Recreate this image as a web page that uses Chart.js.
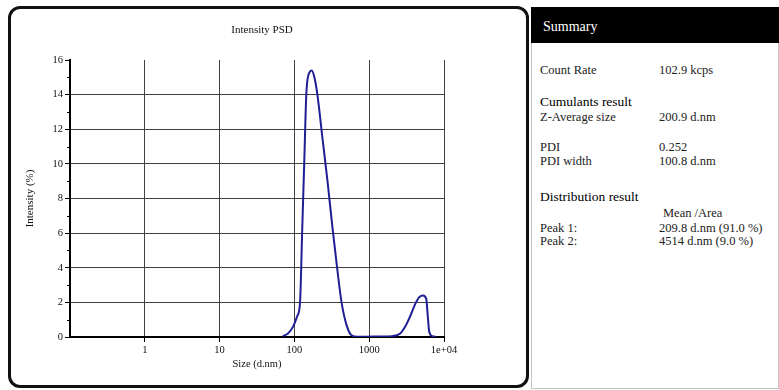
<!DOCTYPE html>
<html>
<head>
<meta charset="utf-8">
<script src="https://cdn.jsdelivr.net/npm/chart.js@4.4.1/dist/chart.umd.min.js"></script>
<style>
  body { margin: 0; width: 779px; height: 390px; background: #fff; position: relative; overflow: hidden;
         font-family: 'Liberation Serif', 'DejaVu Serif', serif; color: #222; }
  #panel { position: absolute; left: 8px; top: 6px; width: 515px; height: 376px;
           border: 3px solid #111; border-radius: 12px; }
  #c { position: absolute; left: 12px; top: 10px; }
  #titulo { position: absolute; left: 162px; top: 23px; width: 200px; text-align: center;
            font-size: 11px; line-height: 13px; color: #111; }
  #summary { position: absolute; left: 531px; top: 7px; width: 246px; height: 380px; border: 1px solid #c4c4c4; }
  #head { position: absolute; left: 531px; top: 7px; width: 248px; height: 36px; background: #000; }
  .t { position: absolute; font-size: 12.5px; line-height: 14px; white-space: nowrap; }
  .h { font-size: 13.5px; color: #000; }
</style>
</head>
<body>
<div id="panel"></div>
<canvas id="c" width="512" height="374"></canvas>
<div id="titulo">Intensity PSD</div>
<div id="summary"></div>
<div id="head"></div>
<div class="t" style="left:543px;top:19px;font-size:14px;line-height:16px;color:#fff;">Summary</div>

<div class="t" style="left:540px;top:63px;">Count Rate</div>
<div class="t" style="left:659px;top:63px;">102.9 kcps</div>

<div class="t h" style="left:540px;top:95px;">Cumulants result</div>
<div class="t" style="left:540px;top:110px;">Z-Average size</div>
<div class="t" style="left:659px;top:110px;">200.9 d.nm</div>

<div class="t" style="left:540px;top:140px;">PDI</div>
<div class="t" style="left:659px;top:140px;">0.252</div>
<div class="t" style="left:540px;top:154px;">PDI width</div>
<div class="t" style="left:659px;top:154px;">100.8 d.nm</div>

<div class="t h" style="left:540px;top:190px;">Distribution result</div>
<div class="t" style="left:663px;top:206px;">Mean /Area</div>
<div class="t" style="left:540px;top:221px;">Peak 1:</div>
<div class="t" style="left:659px;top:221px;">209.8 d.nm (91.0 %)</div>
<div class="t" style="left:540px;top:234px;">Peak 2:</div>
<div class="t" style="left:659px;top:234px;">4514 d.nm (9.0 %)</div>

<script>
// tamanhos (d.nm) e intensidade (%)
const tamanhos = [70, 82, 96, 109, 119, 127, 135, 145, 160, 171, 185, 203, 237, 277, 323, 377, 427, 497, 580, 700,
                  880, 1400, 2030, 2600, 3030, 3530, 4120, 4670, 5250, 5790, 6070, 6350, 6970, 7870];
const intensidade = [0.05, 0.2, 0.6, 1.2, 2.0, 6.1, 9.9, 14.2, 15.3, 15.4, 15.0, 14.0, 11.5, 9.0, 6.3, 3.8, 2.0, 0.7, 0.1, 0.02,
                     0.02, 0.03, 0.05, 0.2, 0.6, 1.2, 1.9, 2.3, 2.4, 2.2, 1.2, 0.3, 0.05, 0];

const xTicks = [0.1, 1, 10, 100, 1000, 10000];
const xTickLabels = ['', '1', '10', '100', '1000', '1e+04'];
const yMin = 0;
const yMax = 16;

const pontos = tamanhos.map((t, i) => ({ x: t, y: intensidade[i] }));

// marcas menores no eixo y (entre os ticks principais)
const minorTicks = {
  id: 'minorTicks',
  afterDraw(chart) {
    const y = chart.scales.y;
    const ctx = chart.ctx;
    ctx.save();
    ctx.strokeStyle = '#000';
    ctx.lineWidth = 1;
    for (let i = 0; i < y.ticks.length - 1; i++) {
      const meio = (y.ticks[i].value + y.ticks[i + 1].value) / 2;
      const py = Math.round(y.getPixelForValue(meio)) + 0.5;
      ctx.beginPath();
      ctx.moveTo(y.right - 3, py);
      ctx.lineTo(y.right, py);
      ctx.stroke();
    }
    ctx.restore();
  }
};

Chart.defaults.font.family = "'Liberation Serif', 'DejaVu Serif', serif";
Chart.defaults.color = '#111';

new Chart(document.getElementById('c').getContext('2d'), {
  type: 'line',
  data: {
    datasets: [{
      data: pontos,
      borderColor: '#1f1f95',
      borderWidth: 2,
      pointRadius: 0,
      cubicInterpolationMode: 'monotone',
      fill: false
    }]
  },
  options: {
    responsive: false,
    animation: false,
    layout: { padding: { left: 0, right: 80, top: 50, bottom: 0 } },
    plugins: {
      legend: { display: false },
      tooltip: { enabled: false },
      title: { display: false }
    },
    scales: {
      x: {
        type: 'logarithmic',
        min: xTicks[0],
        max: xTicks[xTicks.length - 1],
        afterBuildTicks: scale => { scale.ticks = xTicks.map(v => ({ value: v })); },
        afterFit: scale => { scale.height = 47; },
        ticks: {
          autoSkip: false,
          maxRotation: 0,
          padding: 2,
          font: { size: 10.5 },
          callback: (v, i) => xTickLabels[i]
        },
        grid: {
          color: ctx => (ctx.tick && ctx.tick.value === xTicks[0]) ? 'rgba(0,0,0,0)' : '#404040',
          tickColor: ctx => (ctx.tick && ctx.tick.value === xTicks[0]) ? 'rgba(0,0,0,0)' : '#000',
          tickLength: 5,
          lineWidth: 1
        },
        border: { color: '#000', width: 2 },
        title: {
          display: true,
          text: 'Size (d.nm)',
          font: { size: 10.5 },
          padding: { top: 0, bottom: 13 }
        }
      },
      y: {
        min: yMin,
        max: yMax,
        afterFit: scale => { scale.width = 58; },
        ticks: { stepSize: 2, padding: 2, font: { size: 10.5 } },
        grid: {
          color: ctx => (ctx.tick && (ctx.tick.value === yMin || ctx.tick.value === yMax)) ? 'rgba(0,0,0,0)' : '#404040',
          tickColor: '#000',
          tickLength: 5,
          lineWidth: 1
        },
        border: { color: '#000', width: 2 },
        title: {
          display: true,
          text: 'Intensity (%)',
          font: { size: 11 },
          padding: { top: 12, bottom: 0 }
        }
      }
    }
  },
  plugins: [minorTicks]
});
</script>
</body>
</html>
